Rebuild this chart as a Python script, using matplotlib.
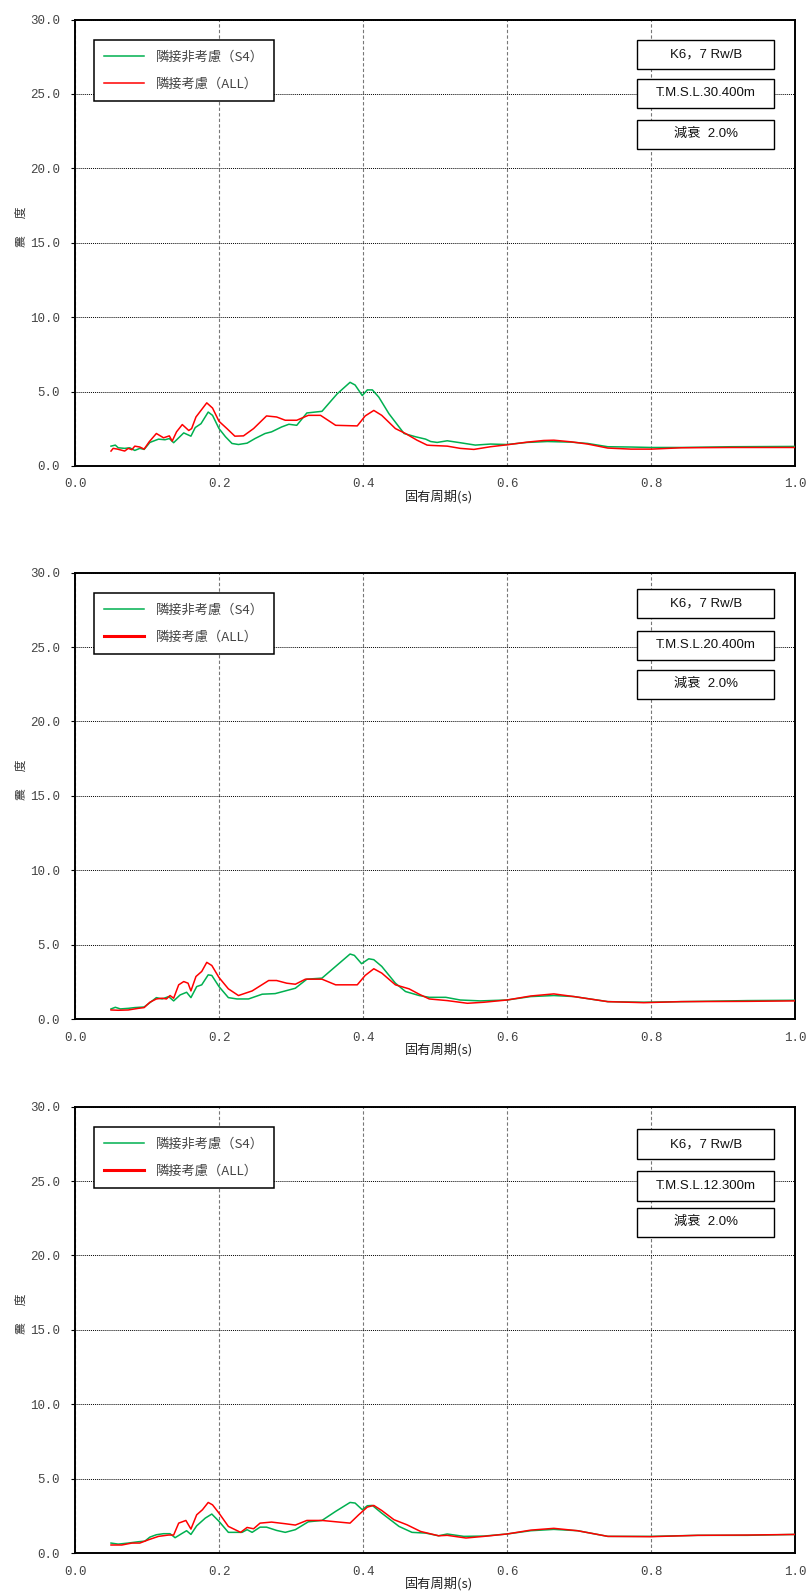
import matplotlib
matplotlib.use('Agg')
import matplotlib.pyplot as plt
from matplotlib.patches import Rectangle

plt.rcParams['font.family'] = ['Liberation Sans', 'Noto Sans CJK JP', 'DejaVu Sans']

# --- data: natural period (s) vs. response value ---
# panel 1 : T.M.S.L.30.400m
p1_s4_t = [0.050, 0.056, 0.060, 0.069, 0.076, 0.083, 0.090, 0.096, 0.104, 0.116,
           0.125, 0.131, 0.137, 0.151, 0.161, 0.167, 0.175, 0.185, 0.191, 0.200,
           0.209, 0.218, 0.227, 0.239, 0.250, 0.264, 0.273, 0.287, 0.297, 0.308,
           0.322, 0.343, 0.364, 0.382, 0.389, 0.399, 0.406, 0.413, 0.422, 0.436,
           0.457, 0.473, 0.487, 0.494, 0.503, 0.517, 0.535, 0.556, 0.577, 0.600,
           0.628, 0.656, 0.689, 0.712, 0.740, 0.772, 0.801, 0.842, 0.911, 1.000]
p1_s4_v = [1.33, 1.40, 1.22, 1.18, 1.22, 1.04, 1.18, 1.11, 1.58, 1.80,
           1.76, 1.84, 1.56, 2.22, 2.00, 2.58, 2.84, 3.62, 3.40, 2.51,
           1.96, 1.51, 1.44, 1.53, 1.84, 2.18, 2.29, 2.62, 2.80, 2.73,
           3.56, 3.67, 4.84, 5.62, 5.44, 4.73, 5.11, 5.11, 4.62, 3.51,
           2.18, 1.96, 1.80, 1.64, 1.58, 1.69, 1.56, 1.40, 1.47, 1.44,
           1.58, 1.64, 1.60, 1.51, 1.29, 1.27, 1.24, 1.24, 1.29, 1.31]
p1_all_t = [0.050, 0.053, 0.059, 0.069, 0.074, 0.079, 0.083, 0.090, 0.096, 0.103,
            0.113, 0.123, 0.131, 0.135, 0.141, 0.149, 0.158, 0.162, 0.168, 0.183,
            0.191, 0.200, 0.211, 0.222, 0.234, 0.248, 0.266, 0.280, 0.292, 0.308,
            0.324, 0.341, 0.362, 0.392, 0.403, 0.415, 0.426, 0.445, 0.459, 0.475,
            0.489, 0.494, 0.517, 0.535, 0.554, 0.577, 0.600, 0.628, 0.651, 0.665,
            0.689, 0.712, 0.740, 0.772, 0.801, 0.842, 0.911, 1.000]
p1_all_v = [1.00, 1.18, 1.13, 1.00, 1.18, 1.09, 1.33, 1.27, 1.13, 1.62,
            2.18, 1.89, 2.02, 1.67, 2.29, 2.78, 2.38, 2.51, 3.29, 4.24,
            3.89, 3.00, 2.51, 2.00, 2.02, 2.51, 3.36, 3.29, 3.07, 3.07,
            3.40, 3.40, 2.73, 2.69, 3.36, 3.73, 3.40, 2.51, 2.18, 1.73,
            1.40, 1.38, 1.33, 1.18, 1.11, 1.29, 1.42, 1.60, 1.71, 1.73,
            1.62, 1.47, 1.20, 1.13, 1.13, 1.22, 1.24, 1.24]

# panel 2 : T.M.S.L.20.400m
p2_s4_t = [0.050, 0.056, 0.063, 0.074, 0.083, 0.096, 0.104, 0.113, 0.121, 0.130,
           0.137, 0.146, 0.155, 0.161, 0.169, 0.176, 0.185, 0.190, 0.200, 0.213,
           0.225, 0.241, 0.260, 0.278, 0.292, 0.306, 0.322, 0.343, 0.362, 0.382,
           0.388, 0.398, 0.408, 0.415, 0.426, 0.445, 0.459, 0.478, 0.492, 0.515,
           0.535, 0.563, 0.600, 0.633, 0.665, 0.693, 0.740, 0.790, 0.842, 0.934,
           1.000]
p2_s4_v = [0.68, 0.79, 0.68, 0.72, 0.77, 0.81, 1.10, 1.44, 1.35, 1.51,
           1.22, 1.62, 1.80, 1.44, 2.18, 2.30, 2.97, 2.93, 2.18, 1.44,
           1.35, 1.35, 1.67, 1.71, 1.89, 2.07, 2.68, 2.75, 3.54, 4.37,
           4.28, 3.72, 4.05, 3.99, 3.54, 2.41, 1.85, 1.58, 1.46, 1.46,
           1.28, 1.22, 1.28, 1.51, 1.58, 1.51, 1.17, 1.13, 1.17, 1.24,
           1.26]
p2_all_t = [0.050, 0.060, 0.074, 0.088, 0.096, 0.104, 0.113, 0.121, 0.127, 0.132,
            0.137, 0.144, 0.151, 0.157, 0.161, 0.168, 0.176, 0.183, 0.190, 0.200,
            0.213, 0.227, 0.246, 0.269, 0.280, 0.294, 0.306, 0.320, 0.343, 0.362,
            0.392, 0.403, 0.415, 0.426, 0.445, 0.464, 0.478, 0.492, 0.517, 0.545,
            0.568, 0.600, 0.633, 0.665, 0.693, 0.740, 0.790, 0.842, 0.934, 1.000]
p2_all_v = [0.61, 0.59, 0.61, 0.72, 0.77, 1.13, 1.35, 1.40, 1.35, 1.58,
            1.40, 2.30, 2.52, 2.41, 1.89, 2.86, 3.20, 3.81, 3.60, 2.79,
            2.03, 1.58, 1.89, 2.59, 2.59, 2.41, 2.34, 2.68, 2.68, 2.30,
            2.30, 2.93, 3.38, 3.09, 2.30, 2.03, 1.67, 1.35, 1.24, 1.06,
            1.13, 1.28, 1.55, 1.69, 1.51, 1.17, 1.10, 1.17, 1.19, 1.22]

# panel 3 : T.M.S.L.12.300m
p3_s4_t = [0.050, 0.060, 0.074, 0.088, 0.097, 0.104, 0.113, 0.123, 0.132, 0.139,
           0.148, 0.155, 0.161, 0.169, 0.181, 0.190, 0.200, 0.213, 0.232, 0.239,
           0.246, 0.257, 0.266, 0.280, 0.292, 0.306, 0.324, 0.343, 0.362, 0.382,
           0.389, 0.399, 0.406, 0.413, 0.426, 0.450, 0.468, 0.487, 0.505, 0.517,
           0.540, 0.568, 0.600, 0.633, 0.665, 0.698, 0.740, 0.800, 0.865, 0.934,
           1.000]
p3_s4_v = [0.67, 0.60, 0.67, 0.76, 0.80, 1.07, 1.23, 1.30, 1.30, 1.03,
           1.30, 1.50, 1.25, 1.83, 2.35, 2.62, 2.13, 1.39, 1.39, 1.57,
           1.39, 1.74, 1.74, 1.52, 1.39, 1.57, 2.10, 2.19, 2.80, 3.40,
           3.36, 2.91, 3.18, 3.20, 2.68, 1.79, 1.39, 1.34, 1.16, 1.28,
           1.12, 1.14, 1.28, 1.50, 1.59, 1.50, 1.12, 1.12, 1.19, 1.19,
           1.25]
p3_all_t = [0.050, 0.065, 0.079, 0.090, 0.102, 0.116, 0.130, 0.137, 0.144, 0.154,
            0.161, 0.169, 0.177, 0.185, 0.191, 0.200, 0.213, 0.230, 0.239, 0.248,
            0.257, 0.273, 0.292, 0.306, 0.322, 0.343, 0.382, 0.394, 0.406, 0.415,
            0.426, 0.443, 0.461, 0.480, 0.505, 0.517, 0.543, 0.568, 0.600, 0.633,
            0.665, 0.698, 0.740, 0.800, 0.865, 0.934, 1.000]
p3_all_v = [0.54, 0.54, 0.67, 0.67, 0.89, 1.12, 1.21, 1.21, 2.01, 2.19,
            1.61, 2.57, 2.91, 3.40, 3.24, 2.68, 1.79, 1.39, 1.72, 1.63,
            2.01, 2.08, 1.97, 1.88, 2.19, 2.19, 2.01, 2.57, 3.09, 3.20,
            2.86, 2.24, 1.90, 1.45, 1.16, 1.19, 1.01, 1.12, 1.28, 1.54,
            1.66, 1.50, 1.12, 1.10, 1.19, 1.21, 1.25]

levels = ['T.M.S.L.30.400m', 'T.M.S.L.20.400m', 'T.M.S.L.12.300m']
case_label = 'K6，7 Rw/B'
damping_label = '減衰  2.0%'
series_labels = ['隣接非考慮（S4）', '隣接考慮（ALL）']
xticks = [0.0, 0.2, 0.4, 0.6, 0.8, 1.0]
yticks = [0.0, 5.0, 10.0, 15.0, 20.0, 25.0, 30.0]

panels = [
    (p1_s4_t, p1_s4_v, p1_all_t, p1_all_v),
    (p2_s4_t, p2_s4_v, p2_all_t, p2_all_v),
    (p3_s4_t, p3_s4_v, p3_all_t, p3_all_v),
]

GREEN = '#00B050'
RED = '#FF0000'
TICK_FONT = dict(family=['Liberation Mono', 'DejaVu Sans Mono'], size=9, color='#444444')

fig = plt.figure(figsize=(8.10, 15.94), dpi=100)
bottoms = [0.7077, 0.3607, 0.0257]
# tops of the three info boxes, axes fraction (they wander a little per panel)
box_tops = [[0.955, 0.868, 0.776], [0.964, 0.870, 0.783], [0.949, 0.855, 0.774]]
BOX_H = 0.066

for i, (s4_t, s4_v, all_t, all_v) in enumerate(panels):
    ax = fig.add_axes([0.0926, bottoms[i], 0.8889, 0.2800])
    ax.plot(s4_t, s4_v, color=GREEN, lw=1.1, label=series_labels[0], zorder=3)
    ax.plot(all_t, all_v, color=RED, lw=1.1, label=series_labels[1], zorder=3)

    ax.set_xlim(0, 1.0)
    ax.set_ylim(0, 30.0)
    ax.set_xticks(xticks)
    ax.set_yticks(yticks)
    ax.set_xticklabels([f'{v:.1f}' for v in xticks], fontdict=TICK_FONT)
    ax.set_yticklabels([f'{v:.1f}' for v in yticks], fontdict=TICK_FONT)
    ax.tick_params(axis='y', direction='out', length=3, width=0.8, pad=8)
    ax.tick_params(axis='x', length=0, pad=9)

    ax.grid(axis='x', color='#777777', ls=(0, (3, 2)), lw=0.8)
    ax.grid(axis='y', color='black', ls=(0, (1, 1)), lw=0.7)
    for sp in ax.spines.values():
        sp.set_linewidth(1.4)
        sp.set_color('black')

    ax.text(-0.074, 0.537, '震　  度', rotation=90, transform=ax.transAxes,
            ha='center', va='center', fontsize=8.5, color='#333333',
            family=['Noto Sans CJK JP'])
    ax.text(0.505, -0.069, '固有周期(s)', transform=ax.transAxes,
            ha='center', va='center', fontsize=9.5, color='#222222',
            family=['Noto Sans CJK JP'])

    leg = ax.legend(loc='upper left', bbox_to_anchor=(0.026, 0.955),
                    borderaxespad=0, fancybox=False, edgecolor='black',
                    framealpha=1, handlelength=3.0, handletextpad=0.9,
                    labelspacing=1.1, borderpad=0.8,
                    prop={'family': ['Noto Sans CJK JP'], 'size': 9.5})
    leg.get_frame().set_linewidth(1.1)
    for t in leg.get_texts():
        t.set_color('#444444')
    if i > 0:
        leg.get_lines()[1].set_linewidth(2.2)

    for top, txt in zip(box_tops[i], [case_label, levels[i], damping_label]):
        ax.add_patch(Rectangle((0.781, top - BOX_H), 0.19, BOX_H, transform=ax.transAxes,
                               facecolor='white', edgecolor='black', lw=1.0, zorder=4))
        ax.text(0.876, top - BOX_H / 2, txt, transform=ax.transAxes, ha='center',
                va='center', fontsize=9.5, color='#111111', zorder=5)

fig.savefig('out.png', dpi=100)
